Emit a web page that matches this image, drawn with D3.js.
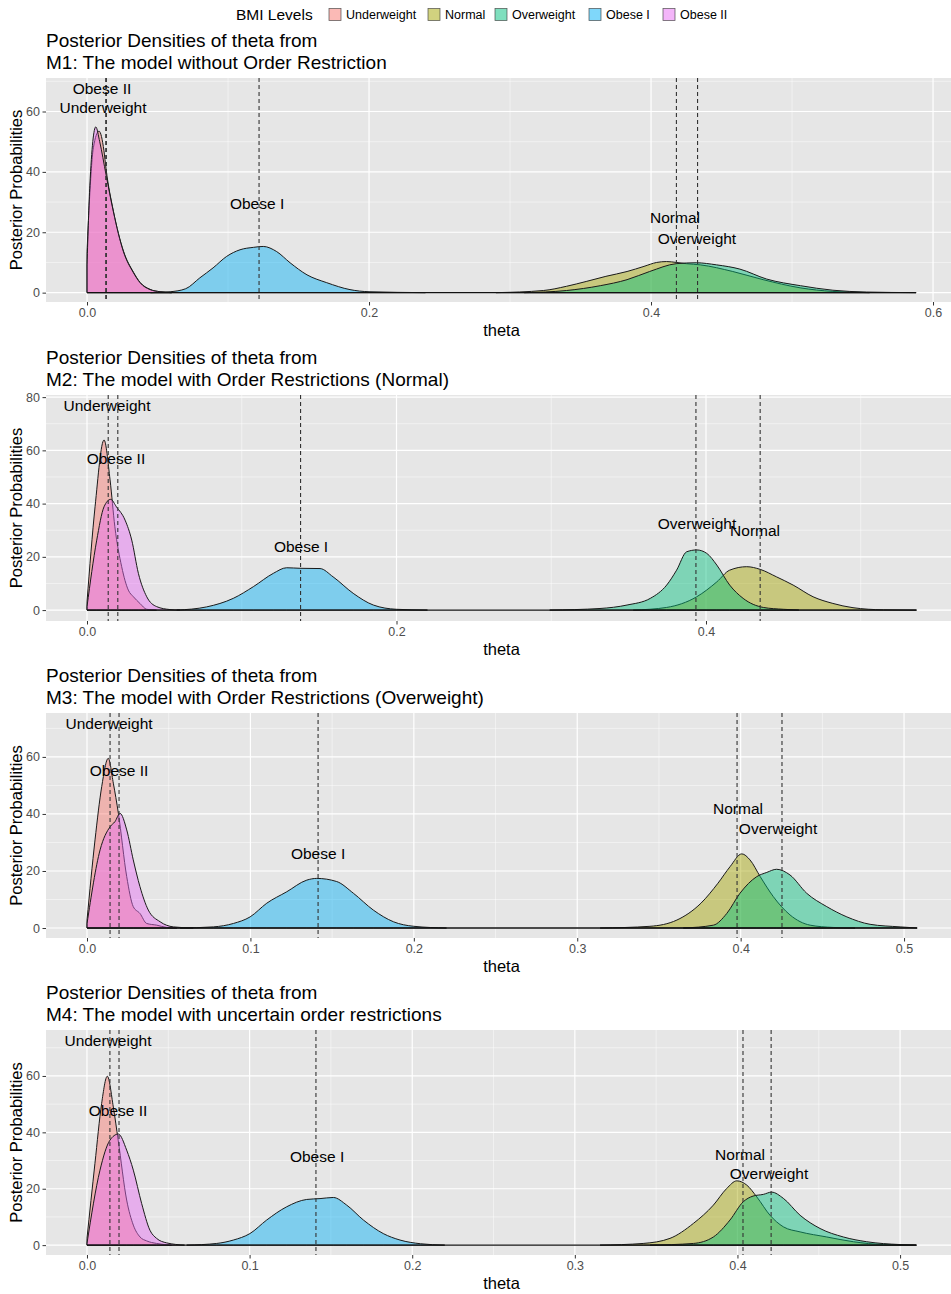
<!DOCTYPE html>
<html><head><meta charset="utf-8">
<script src="https://cdn.jsdelivr.net/npm/d3@7/dist/d3.min.js"></script>
<style>
html,body{margin:0;padding:0;background:#fff;overflow:hidden;}
svg text{font-family:"Liberation Sans",Arial,Helvetica,sans-serif;}
</style></head>
<body><svg id="chart" width="951" height="1294"></svg>
<script>
// ---------------- DATA ----------------
const groups = ["Underweight","Normal","Overweight","Obese I","Obese II"];
const groupColors = ["#F8766D","#A3A500","#00BF7D","#00B0F6","#E76BF3"];
const legendTitle = "BMI Levels";
const xAxisTitle = "theta";
const yAxisTitle = "Posterior Probabilities";

const panelTitles = [
  ["Posterior Densities of theta from","M1: The model without Order Restriction"],
  ["Posterior Densities of theta from","M2: The model with Order Restrictions (Normal)"],
  ["Posterior Densities of theta from","M3: The model with Order Restrictions (Overweight)"],
  ["Posterior Densities of theta from","M4: The model with uncertain order restrictions"]
];
const xTickValues = [[0,0.2,0.4,0.6],[0,0.2,0.4],[0,0.1,0.2,0.3,0.4,0.5],[0,0.1,0.2,0.3,0.4,0.5]];
const yTickValues = [[0,20,40,60],[0,20,40,60,80],[0,20,40,60],[0,20,40,60]];

// density curves [theta, density] per group
const m1Density = {
  "Underweight":[[0,13.6],[0.002,33],[0.0045,48],[0.0085,53.5],[0.012,47],[0.0135,41],[0.0187,27],[0.0258,13.8],[0.0329,6.8],[0.0376,3.4],[0.0447,1.1],[0.0518,0.3],[0.06,0]],
  "Normal":[[0.29,0],[0.3236,0.7],[0.34,2.1],[0.354,3.7],[0.368,5.4],[0.383,7],[0.395,8.7],[0.404,10],[0.411,10.3],[0.418,10],[0.425,9.6],[0.435,9.2],[0.458,7],[0.4795,4.3],[0.5057,1.6],[0.529,0.4],[0.555,0]],
  "Overweight":[[0.31,0],[0.34,0.7],[0.364,2.3],[0.383,4.3],[0.399,7],[0.418,9.6],[0.432,9.9],[0.4465,9.2],[0.463,7.8],[0.482,4.5],[0.506,2.3],[0.529,0.8],[0.553,0.2],[0.588,0]],
  "Obese I":[[0.045,0],[0.0589,0.3],[0.07,1.3],[0.08,4.9],[0.0894,8.2],[0.099,12],[0.1085,14.2],[0.118,15],[0.125,15.3],[0.1345,13.6],[0.144,9.9],[0.156,5.9],[0.17,3.3],[0.1865,1],[0.2,0.3],[0.24,0]],
  "Obese II":[[0,9.2],[0.002,35.6],[0.0062,54.9],[0.009,50],[0.0135,39],[0.0187,26.8],[0.0258,13.6],[0.0329,6.6],[0.0376,3.3],[0.0447,1],[0.0518,0.3],[0.06,0]]
};
const m2Density = {
  "Underweight":[[0,3.1],[0.0052,38.8],[0.011,63.9],[0.0149,48.9],[0.018,31.3],[0.0224,16.3],[0.0267,7.5],[0.03,5],[0.0342,2.5],[0.0386,0.3],[0.045,0]],
  "Normal":[[0.353,0],[0.3746,1],[0.394,5],[0.407,10.6],[0.4153,15],[0.4263,16.3],[0.435,15.3],[0.4455,12.5],[0.4563,9.4],[0.4692,5],[0.482,2.5],[0.495,0.9],[0.5146,0.1],[0.536,0]],
  "Overweight":[[0.299,0],[0.3315,0.6],[0.349,1.9],[0.364,4.4],[0.3746,9.4],[0.381,15],[0.3875,21.9],[0.394,22.6],[0.4005,21.3],[0.407,16.9],[0.4153,9.4],[0.424,4.4],[0.437,1],[0.45,0.3],[0.46,0]],
  "Obese I":[[0.058,0],[0.0773,1.2],[0.0945,4.4],[0.1075,8.8],[0.1204,13.8],[0.129,15.9],[0.1376,15.7],[0.1506,15.6],[0.159,12.5],[0.172,6.3],[0.185,1.9],[0.2,0.3],[0.22,0]],
  "Obese II":[[0,1.3],[0.0062,26],[0.011,38.8],[0.0153,41.6],[0.019,38.8],[0.0246,33.8],[0.0289,26.3],[0.0332,13.8],[0.0386,5],[0.045,1.3],[0.0536,0.2],[0.06,0]]
};
const m3Density = {
  "Underweight":[[0,2.8],[0.0049,30.9],[0.009,49.6],[0.013,59.5],[0.0161,50.8],[0.0192,40.2],[0.0243,18],[0.0283,7.5],[0.0324,5.1],[0.0365,1.6],[0.0427,1],[0.0487,0.2],[0.055,0]],
  "Normal":[[0.314,0],[0.3445,0.6],[0.361,2.8],[0.3757,8.7],[0.3861,15.7],[0.3935,21.5],[0.4007,26],[0.4057,23.9],[0.412,18],[0.42,11],[0.4302,4.6],[0.4425,1],[0.4567,0.2],[0.47,0]],
  "Overweight":[[0.3649,0],[0.3833,1],[0.3915,5.1],[0.3996,12.2],[0.4098,18],[0.416,19.5],[0.422,20.6],[0.4302,18.6],[0.4404,12.2],[0.4527,7.5],[0.465,3.9],[0.4792,1.3],[0.4976,0.4],[0.508,0]],
  "Obese I":[[0.057,0],[0.0773,0.4],[0.0896,1.6],[0.0998,3.9],[0.11,8.7],[0.1222,12.7],[0.1345,16.8],[0.1406,17.4],[0.1528,16.3],[0.163,12.2],[0.1752,6.3],[0.1875,2.2],[0.2,0.6],[0.22,0]],
  "Obese II":[[0,1.5],[0.008,27.4],[0.0141,35.5],[0.0171,37.3],[0.0202,40.2],[0.0243,34.4],[0.0283,23.9],[0.0324,14.5],[0.0375,6.3],[0.0447,2.2],[0.0528,0.4],[0.065,0]]
};
const m4Density = {
  "Underweight":[[0,2.4],[0.0049,29],[0.009,50.2],[0.0125,59.9],[0.0162,49],[0.0192,37.2],[0.0244,16],[0.0285,7.1],[0.0326,2.9],[0.0367,1.5],[0.0428,0.6],[0.052,0]],
  "Normal":[[0.3155,0],[0.342,0.6],[0.3585,2.4],[0.3729,7.7],[0.3852,14.2],[0.3934,20.1],[0.3996,22.8],[0.4057,21.3],[0.4119,17.1],[0.42,10.6],[0.4282,6.5],[0.4385,4.7],[0.4549,2.9],[0.4713,1.2],[0.4897,0.2],[0.51,0]],
  "Overweight":[[0.3463,0],[0.3729,0.6],[0.3852,2.9],[0.3954,8.9],[0.4036,15.4],[0.4096,17.4],[0.4159,18],[0.421,18.8],[0.4282,16.6],[0.4385,10.6],[0.4508,5.9],[0.4651,2.9],[0.4795,1.2],[0.5,0.2],[0.51,0]],
  "Obese I":[[0.0613,0],[0.0798,0.6],[0.09,1.8],[0.1002,4.1],[0.1105,8.9],[0.1228,13.6],[0.1351,16.2],[0.1433,16.5],[0.1515,16.9],[0.1597,14.2],[0.17,8.9],[0.1822,4.1],[0.1925,1.8],[0.205,0.5],[0.22,0]],
  "Obese II":[[0,0.6],[0.008,26.6],[0.0141,37.2],[0.0193,39.4],[0.0244,33.7],[0.0285,26.6],[0.0336,14.8],[0.0387,5.3],[0.0428,2.4],[0.049,0.8],[0.06,0]]
};
// posterior means (dashed lines), order = groups
const m1Means = [0.0137,0.418,0.433,0.122,0.0133];
const m2Means = [0.0137,0.435,0.3935,0.138,0.0199];
const m3Means = [0.0141,0.3978,0.4253,0.1414,0.0196];
const m4Means = [0.0141,0.4034,0.4207,0.1408,0.0197];
// label positions, order = groups
const m1LabelX = [0.0113,0.417,0.4326,0.1206,0.0106];
const m1LabelY = [61.4,25,18,29.7,67.7];
const m2LabelX = [0.0129,0.4317,0.3942,0.1383,0.0187];
const m2LabelY = [76.7,30,32.7,24,57];
const m3LabelX = [0.0135,0.3984,0.4229,0.1414,0.0196];
const m3LabelY = [71.9,41.8,35.1,26,55.4];
const m4LabelX = [0.0129,0.4016,0.4194,0.1415,0.0191];
const m4LabelY = [72.7,32.3,25.5,31.6,47.9];

// ---------------- LAYOUT ----------------
const densities = [m1Density,m2Density,m3Density,m4Density];
const means = [m1Means,m2Means,m3Means,m4Means];
const labelXs = [m1LabelX,m2LabelX,m3LabelX,m4LabelX];
const labelYs = [m1LabelY,m2LabelY,m3LabelY,m4LabelY];
const xDomains = [[-0.0291,0.617],[-0.0265,0.5622],[-0.0251,0.5324],[-0.0252,0.535]];
const yDomains = [[-3.1,71.1],[-4.1,80.8],[-3.5,75.4],[-3.5,76.3]];
const panelTop = [78,395,713,1030];
const panelBottom = [302,621,938,1255];
const panelLeft = 46, panelRight = 957;
const FILL_ALPHA = 0.45;

const svg = d3.select("#chart");
svg.append("rect").attr("width",951).attr("height",1294).attr("fill","#fff");

// legend
const lg = svg.append("g");
lg.append("text").attr("x",236).attr("y",20).attr("font-size",15.5).attr("fill","#000").text(legendTitle);
const legendBoxX = [329,428,495,589,663];
groups.forEach((g,i)=>{
  lg.append("rect").attr("x",legendBoxX[i]).attr("y",8.5).attr("width",12).attr("height",12)
    .attr("fill",groupColors[i]).attr("fill-opacity",FILL_ALPHA+0.05)
    .attr("stroke","#333").attr("stroke-opacity",0.75).attr("stroke-width",0.8);
  lg.append("text").attr("x",legendBoxX[i]+17).attr("y",19).attr("font-size",12.5).attr("fill","#000").text(g);
});

const fmt = d3.format(".1f");

for (let p=0;p<4;p++){
  const x = d3.scaleLinear().domain(xDomains[p]).range([panelLeft,panelRight]);
  const y = d3.scaleLinear().domain(yDomains[p]).range([panelBottom[p],panelTop[p]]);
  const g = svg.append("g");

  // titles
  g.append("text").attr("x",46).attr("y",panelTop[p]-31).attr("font-size",19).attr("fill","#000").text(panelTitles[p][0]);
  g.append("text").attr("x",46).attr("y",panelTop[p]-9).attr("font-size",19).attr("fill","#000").text(panelTitles[p][1]);

  // panel background
  g.append("rect").attr("x",panelLeft).attr("y",panelTop[p]).attr("width",panelRight-panelLeft)
    .attr("height",panelBottom[p]-panelTop[p]).attr("fill","#E6E6E6");

  // gridlines
  const xt = xTickValues[p];
  const step = xt[1]-xt[0];
  const xMinor = [];
  for (let v = xt[0]-step/2; v <= xDomains[p][1]; v += step) if (v>=xDomains[p][0]) xMinor.push(v);
  const yt = yTickValues[p];
  const yMinor = [];
  for (let v = yt[0]-10; v <= yDomains[p][1]; v += 20) if (v>=yDomains[p][0]) yMinor.push(v);
  g.selectAll(null).data(xMinor).enter().append("line")
    .attr("x1",d=>x(d)).attr("x2",d=>x(d)).attr("y1",panelTop[p]).attr("y2",panelBottom[p])
    .attr("stroke","#fff").attr("stroke-opacity",0.8).attr("stroke-width",0.6);
  g.selectAll(null).data(yMinor).enter().append("line")
    .attr("y1",d=>y(d)).attr("y2",d=>y(d)).attr("x1",panelLeft).attr("x2",panelRight)
    .attr("stroke","#fff").attr("stroke-opacity",0.8).attr("stroke-width",0.6);
  g.selectAll(null).data(xt).enter().append("line")
    .attr("x1",d=>x(d)).attr("x2",d=>x(d)).attr("y1",panelTop[p]).attr("y2",panelBottom[p])
    .attr("stroke","#fff").attr("stroke-width",1.2);
  g.selectAll(null).data(yt).enter().append("line")
    .attr("y1",d=>y(d)).attr("y2",d=>y(d)).attr("x1",panelLeft).attr("x2",panelRight)
    .attr("stroke","#fff").attr("stroke-width",1.2);

  // densities
  const area = d3.area().x(d=>x(d[0])).y0(y(0)).y1(d=>y(d[1])).curve(d3.curveMonotoneX);
  const dens = densities[p];
  let minX = Infinity, maxX = -Infinity;
  groups.forEach((grp,i)=>{
    const pts = dens[grp];
    minX = Math.min(minX, pts[0][0]); maxX = Math.max(maxX, pts[pts.length-1][0]);
    g.append("path").datum(pts).attr("d",area)
      .attr("fill",groupColors[i]).attr("fill-opacity",FILL_ALPHA)
      .attr("stroke","#1a1a1a").attr("stroke-width",1).attr("stroke-linejoin","round");
  });
  g.append("line").attr("x1",x(minX)).attr("x2",x(maxX)).attr("y1",y(0)).attr("y2",y(0))
    .attr("stroke","#111").attr("stroke-width",1.3);

  // mean lines
  g.selectAll(null).data(means[p]).enter().append("line")
    .attr("x1",d=>x(d)).attr("x2",d=>x(d)).attr("y1",panelTop[p]).attr("y2",panelBottom[p])
    .attr("stroke","#333").attr("stroke-width",1.1).attr("stroke-dasharray","4,3");

  // labels
  groups.forEach((grp,i)=>{
    g.append("text").attr("x",x(labelXs[p][i])).attr("y",y(labelYs[p][i])).attr("dy","0.36em")
      .attr("text-anchor","middle").attr("font-size",15.5).attr("fill","#000").text(grp);
  });

  // x axis
  const xAxis = d3.axisBottom(x).tickValues(xt).tickFormat(fmt).tickSize(3.5).tickPadding(3);
  const xa = g.append("g").attr("transform",`translate(0,${panelBottom[p]})`).call(xAxis);
  xa.select(".domain").remove();
  xa.selectAll(".tick line").attr("stroke","#333");
  xa.selectAll(".tick text").attr("fill","#4D4D4D").attr("font-size",12.5)
    .attr("font-family","'Liberation Sans',Arial,sans-serif");

  // y axis
  const yAxis = d3.axisLeft(y).tickValues(yt).tickFormat(d3.format("d")).tickSize(3.5).tickPadding(2.5);
  const ya = g.append("g").attr("transform",`translate(${panelLeft},0)`).call(yAxis);
  ya.select(".domain").remove();
  ya.selectAll(".tick line").attr("stroke","#333");
  ya.selectAll(".tick text").attr("fill","#4D4D4D").attr("font-size",12.5)
    .attr("font-family","'Liberation Sans',Arial,sans-serif");

  // axis titles
  g.append("text").attr("x",(panelLeft+panelRight)/2).attr("y",panelBottom[p]+34)
    .attr("text-anchor","middle").attr("font-size",16.5).attr("fill","#000").text(xAxisTitle);
  const cy = (panelTop[p]+panelBottom[p])/2;
  g.append("text").attr("transform",`translate(22,${cy}) rotate(-90)`)
    .attr("text-anchor","middle").attr("font-size",16.5).attr("fill","#000").text(yAxisTitle);
}
</script>
</body></html>
